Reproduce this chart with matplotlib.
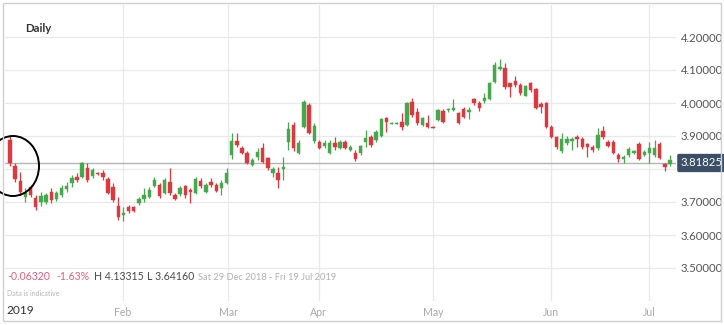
import matplotlib
matplotlib.use("Agg")
import matplotlib.pyplot as plt
from matplotlib.patches import Ellipse, Rectangle
import numpy as np

# ---------------- data ----------------
opens = [3.888, 3.809, 3.764, 3.715, 3.745, 3.712, 3.700, 3.700, 3.730, 3.709,
         3.721, 3.739, 3.758, 3.776, 3.776, 3.803, 3.779, 3.788, 3.788, 3.770,
         3.745, 3.688, 3.661, 3.685, 3.685, 3.697, 3.709, 3.715, 3.748, 3.752,
         3.727, 3.761, 3.721, 3.724, 3.748, 3.736, 3.727, 3.764, 3.730, 3.761,
         3.752, 3.742, 3.758, 3.842, 3.885, 3.864, 3.848, 3.812, 3.836, 3.864,
         3.833, 3.788, 3.788, 3.800, 3.882, 3.933, 3.848, 3.927, 3.994, 3.885,
         3.882, 3.870, 3.848, 3.879, 3.864, 3.882, 3.858, 3.848, 3.848, 3.882,
         3.897, 3.888, 3.900, 3.955, 3.936, 3.936, 3.942, 3.933, 4.003, 3.973,
         3.933, 3.939, 3.927, 3.949, 3.976, 3.979, 3.979, 3.970, 3.982, 3.973,
         4.012, 4.000, 4.006, 4.012, 4.064, 4.103, 4.106, 4.061, 4.067, 4.055,
         4.021, 4.061, 4.042, 3.997, 4.000, 3.927, 3.897, 3.855, 3.879, 3.885,
         3.897, 3.891, 3.876, 3.867, 3.864, 3.915, 3.882, 3.882, 3.842, 3.830,
         3.842, 3.848, 3.876, 3.842, 3.848, 3.842, 3.876, 3.815, 3.815]
highs = [3.900, 3.818, 3.791, 3.742, 3.752, 3.721, 3.730, 3.727, 3.742, 3.733,
         3.752, 3.761, 3.782, 3.788, 3.821, 3.818, 3.803, 3.791, 3.797, 3.776,
         3.758, 3.715, 3.685, 3.691, 3.688, 3.715, 3.742, 3.745, 3.776, 3.758,
         3.773, 3.803, 3.727, 3.748, 3.752, 3.742, 3.776, 3.773, 3.758, 3.773,
         3.758, 3.767, 3.803, 3.909, 3.909, 3.870, 3.855, 3.833, 3.864, 3.879,
         3.836, 3.806, 3.806, 3.836, 3.942, 3.942, 3.888, 4.009, 4.000, 3.939,
         3.888, 3.888, 3.888, 3.897, 3.888, 3.888, 3.873, 3.858, 3.873, 3.918,
         3.903, 3.918, 3.955, 3.958, 3.942, 3.942, 3.970, 4.003, 4.015, 3.985,
         3.958, 3.964, 3.930, 3.982, 3.982, 3.985, 4.012, 3.973, 3.988, 3.988,
         4.015, 4.006, 4.030, 4.064, 4.124, 4.133, 4.121, 4.061, 4.082, 4.061,
         4.055, 4.064, 4.046, 4.003, 4.003, 3.933, 3.900, 3.909, 3.900, 3.897,
         3.903, 3.897, 3.879, 3.873, 3.924, 3.930, 3.888, 3.888, 3.848, 3.842,
         3.867, 3.858, 3.882, 3.858, 3.882, 3.888, 3.882, 3.818, 3.842]
lows = [3.809, 3.761, 3.721, 3.700, 3.715, 3.676, 3.688, 3.694, 3.697, 3.703,
        3.715, 3.730, 3.745, 3.761, 3.773, 3.761, 3.773, 3.782, 3.767, 3.724,
        3.700, 3.645, 3.642, 3.667, 3.670, 3.691, 3.700, 3.712, 3.745, 3.712,
        3.724, 3.721, 3.706, 3.718, 3.712, 3.697, 3.724, 3.742, 3.727, 3.745,
        3.730, 3.721, 3.755, 3.830, 3.867, 3.845, 3.815, 3.809, 3.827, 3.818,
        3.797, 3.776, 3.742, 3.767, 3.858, 3.855, 3.845, 3.924, 3.906, 3.879,
        3.861, 3.864, 3.845, 3.858, 3.861, 3.861, 3.855, 3.824, 3.842, 3.867,
        3.867, 3.882, 3.897, 3.912, 3.936, 3.936, 3.918, 3.930, 3.958, 3.933,
        3.930, 3.924, 3.924, 3.945, 3.939, 3.973, 3.976, 3.936, 3.955, 3.952,
        3.994, 3.976, 4.000, 4.009, 4.061, 4.100, 4.042, 4.018, 4.049, 4.024,
        4.021, 4.033, 3.982, 3.970, 3.924, 3.894, 3.861, 3.848, 3.873, 3.858,
        3.867, 3.861, 3.836, 3.851, 3.858, 3.891, 3.867, 3.845, 3.821, 3.818,
        3.836, 3.845, 3.827, 3.839, 3.818, 3.836, 3.830, 3.794, 3.809]
closes = [3.818, 3.770, 3.730, 3.727, 3.721, 3.685, 3.718, 3.721, 3.706, 3.727,
          3.742, 3.748, 3.773, 3.767, 3.818, 3.767, 3.797, 3.785, 3.776, 3.727,
          3.706, 3.655, 3.667, 3.673, 3.673, 3.709, 3.721, 3.736, 3.767, 3.718,
          3.767, 3.727, 3.709, 3.742, 3.721, 3.730, 3.770, 3.748, 3.752, 3.752,
          3.733, 3.758, 3.788, 3.885, 3.873, 3.848, 3.818, 3.827, 3.851, 3.821,
          3.803, 3.800, 3.767, 3.806, 3.921, 3.864, 3.879, 4.003, 3.909, 3.930,
          3.864, 3.879, 3.879, 3.867, 3.882, 3.864, 3.867, 3.830, 3.870, 3.894,
          3.873, 3.912, 3.952, 3.942, 3.939, 3.939, 3.927, 4.000, 3.964, 3.939,
          3.955, 3.927, 3.924, 3.979, 3.942, 3.982, 3.985, 3.939, 3.958, 3.979,
          4.000, 3.985, 4.015, 4.061, 4.115, 4.109, 4.049, 4.049, 4.055, 4.030,
          4.052, 4.039, 3.985, 3.988, 3.927, 3.897, 3.867, 3.891, 3.891, 3.891,
          3.891, 3.867, 3.867, 3.858, 3.903, 3.897, 3.870, 3.848, 3.830, 3.836,
          3.861, 3.855, 3.830, 3.851, 3.864, 3.864, 3.833, 3.806, 3.827]

month_labels = ["Feb", "Mar", "Apr", "May", "Jun", "Jul"]
month_pos = [21.9, 42.3, 59.9, 82.0, 104.9, 123.9]
price_ticks = [3.5, 3.6, 3.7, 3.8, 3.9, 4.0, 4.1, 4.2]
last_price = 3.81825
year_label = "2019"
title = "Daily"
change_txt = "-0.06320"
change_pct_txt = "-1.63%"
high_txt = "H 4.13315"
low_txt = "L 3.64160"
range_txt = "Sat 29 Dec 2018 - Fri 19 Jul 2019"
note_txt = "Data is indicative"

# ---------------- style ----------------
W, H = 724, 325
plt.rcParams["font.family"] = ["Lato", "DejaVu Sans"]
RED = "#d9393f"
GREEN = "#46a84c"
GRID = "#e9e9e9"

fig = plt.figure(figsize=(W / 100, H / 100), dpi=100)
fig.patch.set_facecolor("white")

def fx(px):
    return px / W

def fy(py):
    return 1 - py / H

# axes placed to span the plotting region
ax_left, ax_right, ax_top, ax_bot = 5, 676, 5, 301
ax = fig.add_axes([fx(ax_left), fy(ax_bot), fx(ax_right - ax_left), (ax_bot - ax_top) / H])
ax.set_facecolor("white")
for s in ax.spines.values():
    s.set_visible(False)

n = len(opens)
idx = np.arange(n)
o = np.array(opens); h = np.array(highs); l = np.array(lows); c = np.array(closes)
up = c >= o
colors = np.where(up, GREEN, RED)

# price scale: 330 px per 1.0 unit, 4.2 at y=37px
ax.set_ylim(4.2 - (ax_bot - 37) / 330, 4.2 + (37 - ax_top) / 330)
ax.set_xlim(-0.97, n - 1 + (ax_right - 670) / 5.156)

# grid
for p in price_ticks:
    ax.axhline(p, color=GRID, lw=0.9, zorder=0)
for m in month_pos:
    ax.axvline(m, color=GRID, lw=0.9, zorder=0)

# current price line
ax.axhline(last_price, color="#b4b4b4", lw=1.0, zorder=1)

# candles
ax.vlines(idx, l, h, colors=colors, lw=0.9, zorder=2)
body_h = np.maximum(np.abs(c - o), 0.0025)
body_b = np.minimum(o, c)
ax.bar(idx, body_h, bottom=body_b, width=0.66, color=colors, edgecolor=colors,
       linewidth=0.3, zorder=3)

# y labels on the right (the 3.8 label sits under the last-price tag)
ax.set_yticks(price_ticks)
ax.set_yticklabels(["" if abs(p - 3.8) < 1e-9 else f"{p:.5f}" for p in price_ticks])
ax.yaxis.tick_right()
ax.tick_params(axis="y", length=0, pad=3.2, labelsize=8.2, labelcolor="#555555")

# month labels
ax.set_xticks(month_pos)
ax.set_xticklabels(month_labels)
ax.tick_params(axis="x", length=0, pad=4.5, labelsize=7.6, labelcolor="#a9a9a9")

# last price tag
ax.annotate(f"{last_price:.5f}", xy=(1.0, last_price), xycoords=("axes fraction", "data"),
            xytext=(3.5, 0), textcoords="offset points", ha="left", va="center",
            fontsize=8.2, color="white", zorder=10, annotation_clip=False,
            bbox=dict(boxstyle="round,pad=0.32,rounding_size=0.15", fc="#3a4f66", ec="none"))

# texts
fig.text(fx(25), fy(29), title, fontsize=8.2, fontweight="bold", color="#333333",
         ha="left", va="center")
fig.text(fx(6), fy(310), year_label, fontsize=8.6, color="#333333", ha="left", va="center")
ty = fy(277)
fig.text(fx(7), ty, change_txt, fontsize=7.6, color="#e0607a", ha="left", va="center")
fig.text(fx(56), ty, change_pct_txt, fontsize=7.6, color="#e0607a", ha="left", va="center")
fig.text(fx(94), ty, high_txt, fontsize=7.6, color="#4a4a4a", ha="left", va="center")
fig.text(fx(147), ty, low_txt, fontsize=7.6, color="#4a4a4a", ha="left", va="center")
fig.text(fx(198), ty, range_txt, fontsize=6.7, color="#b0b0b0", ha="left", va="center")
fig.text(fx(7), fy(293), note_txt, fontsize=5.0, color="#b5b5b5", ha="left", va="center")

# annotation ellipse around first candles
fig.patches.append(Ellipse((fx(13), fy(166)), fx(52), 60 / H, fill=False, ec="black",
                           lw=1.4, transform=fig.transFigure, zorder=20))

# outer frame
fig.patches.append(Rectangle((fx(3), fy(321)), fx(718), 318 / H, fill=False,
                             ec="#cfcfcf", lw=1.0, transform=fig.transFigure, zorder=20))

fig.savefig("out.png", dpi=100, facecolor="white")
